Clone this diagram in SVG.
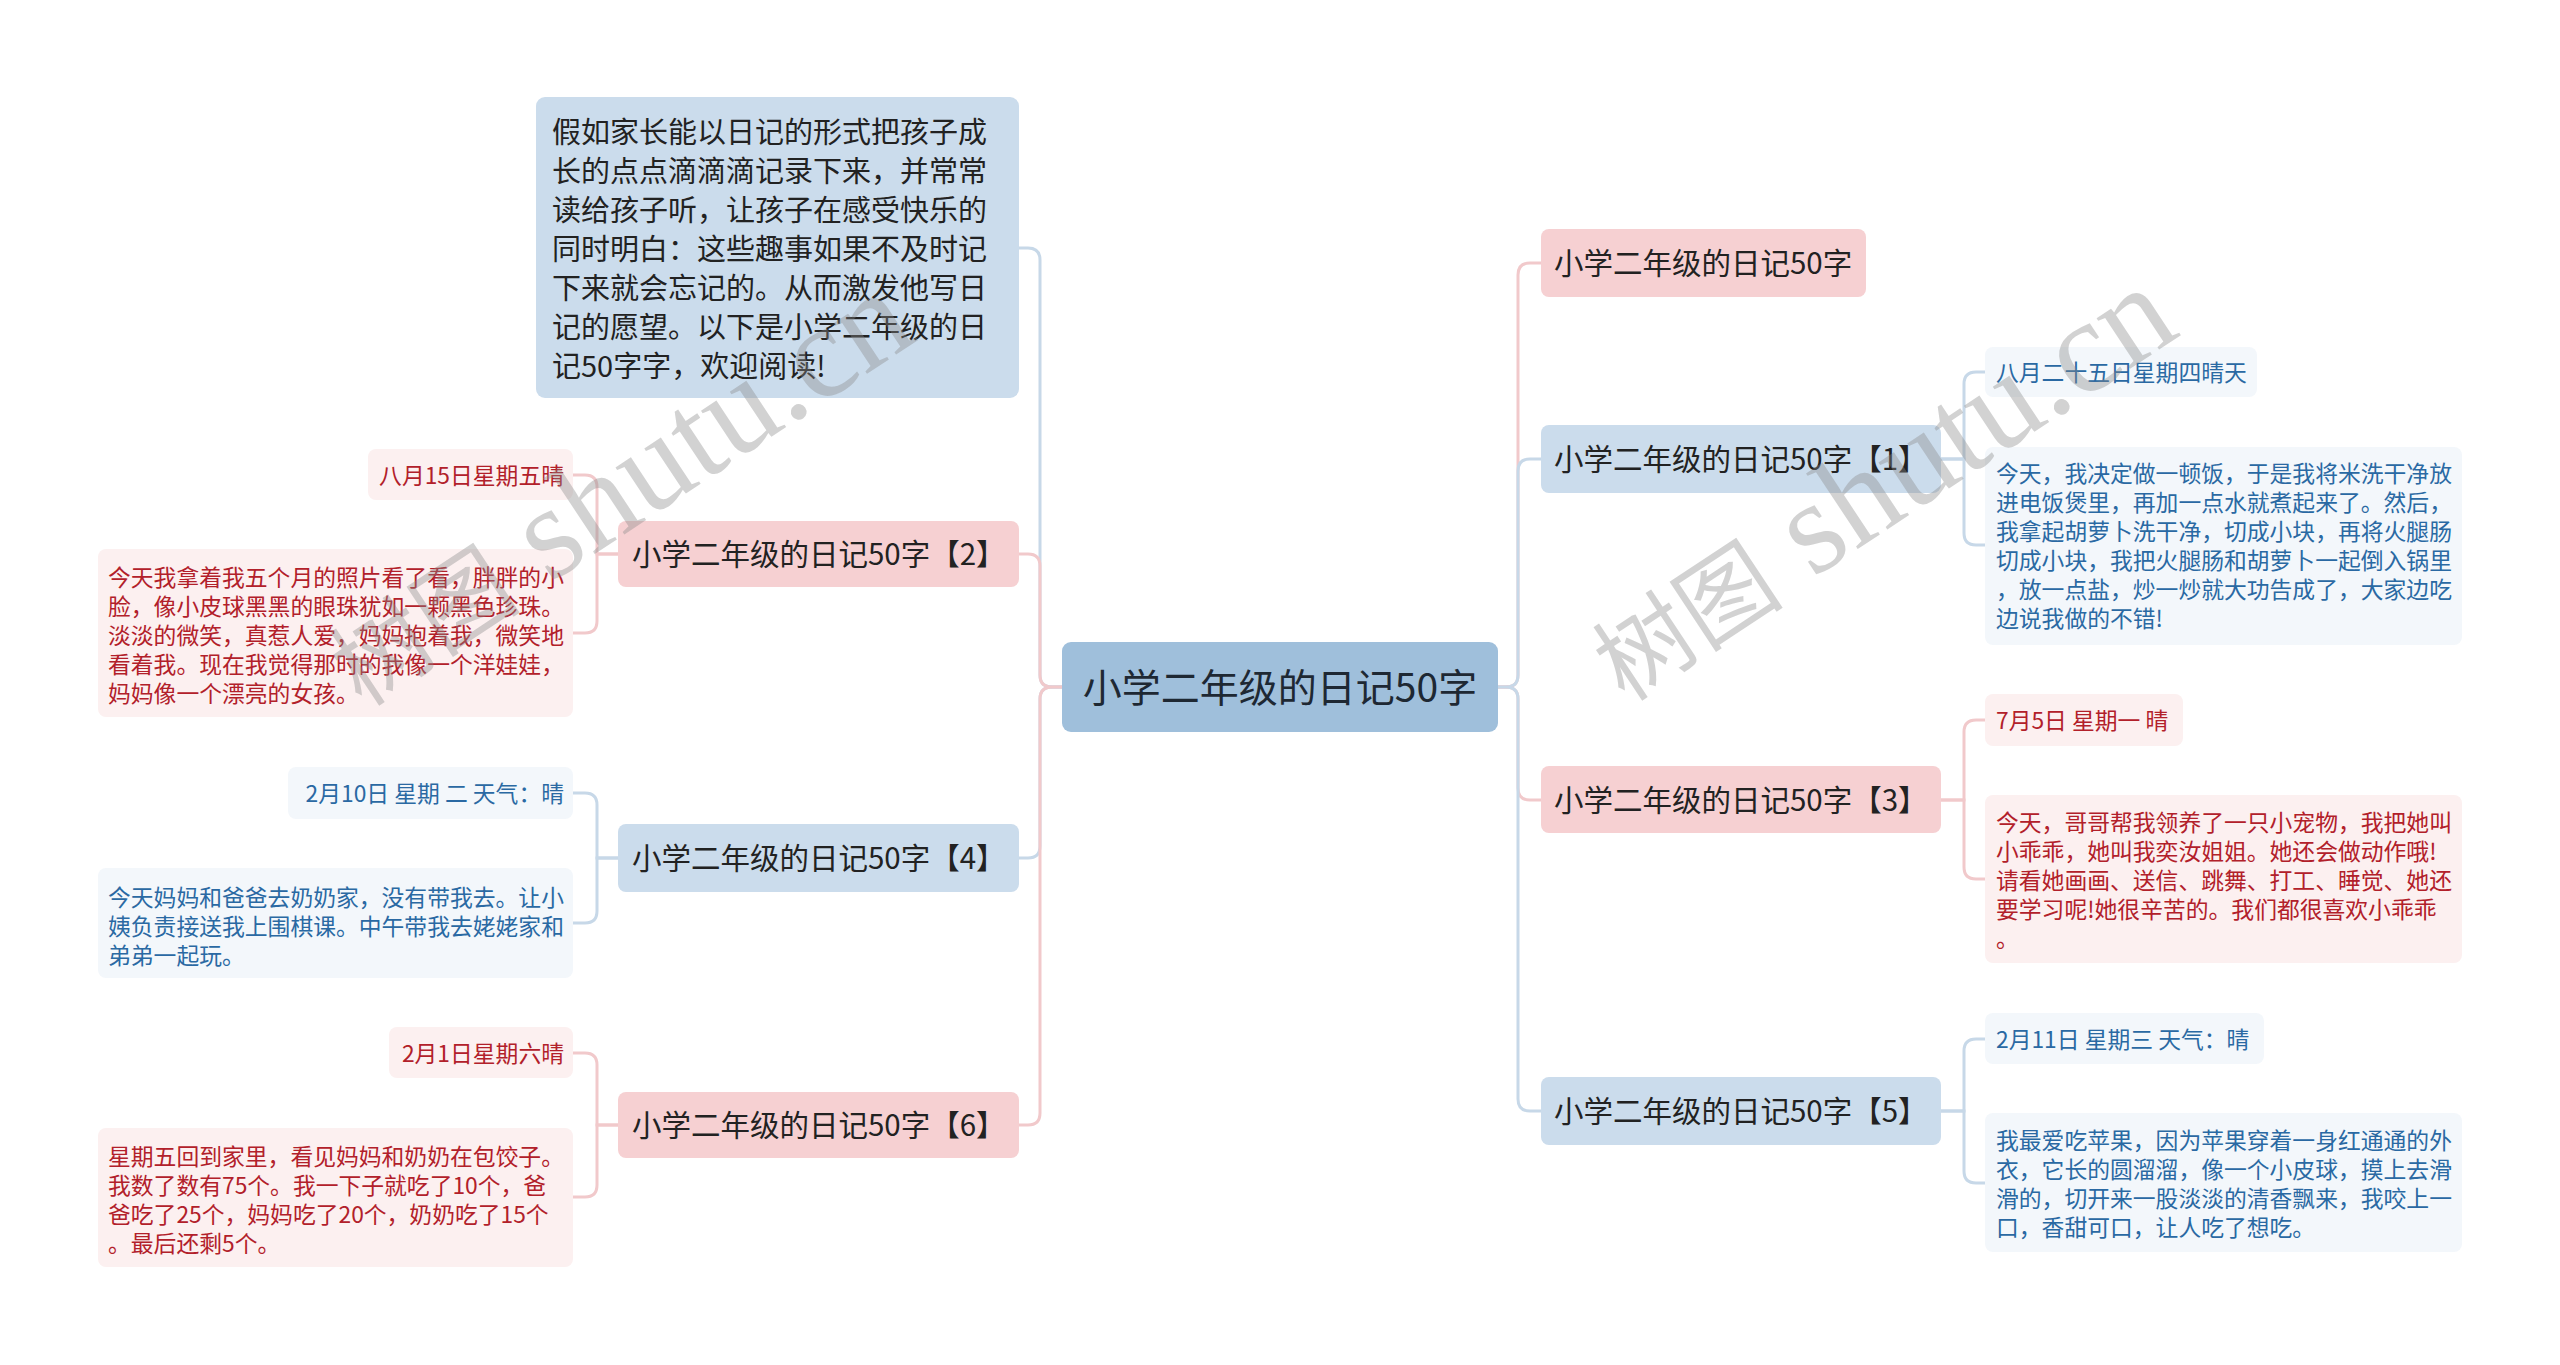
<svg xmlns="http://www.w3.org/2000/svg" width="2560" height="1365" viewBox="0 0 2560 1365">
<style>
text{font-family:"Noto Sans CJK SC","Noto Sans",sans-serif;}
.root{fill:#9fbfdb;}
.tb{fill:#cbdcec;}
.tp{fill:#f6d0d2;}
.lb{fill:#f3f7fb;}
.lp{fill:#fcf0f0;}
.rt{font-size:39px;fill:#1e2833;}
.tt{font-size:29.5px;fill:#222;}
.it{font-size:29px;fill:#222;}
.ltb{font-size:22.8px;fill:#2a69a3;}
.ltp{font-size:22.8px;fill:#b2202a;}
.cb{fill:none;stroke:#c7d8e8;stroke-width:3;}
.cp{fill:none;stroke:#f1c9cb;stroke-width:3;}
.wm{fill:#8a8a8a;fill-opacity:0.38;font-family:"Liberation Serif","Noto Sans CJK SC",serif;}
</style>

<g id="connectors">
  <path class="cb" d="M1062,687 H1052 Q1040,687 1040,675 V260 Q1040,248 1028,248 H1019"/>
  <path class="cp" d="M1062,687 H1052 Q1040,687 1040,675 V566 Q1040,554 1028,554 H1019"/>
  <path class="cb" d="M1062,687 H1052 Q1040,687 1040,699 V846 Q1040,858 1028,858 H1019"/>
  <path class="cp" d="M1062,687 H1052 Q1040,687 1040,699 V1113 Q1040,1125 1028,1125 H1019"/>
  <path class="cp" d="M1498,687 H1506 Q1518,687 1518,675 V275 Q1518,263 1530,263 H1541"/>
  <path class="cb" d="M1498,687 H1506 Q1518,687 1518,675 V471 Q1518,459 1530,459 H1541"/>
  <path class="cp" d="M1498,687 H1506 Q1518,687 1518,699 V788 Q1518,800 1530,800 H1541"/>
  <path class="cb" d="M1498,687 H1506 Q1518,687 1518,699 V1099 Q1518,1111 1530,1111 H1541"/>
  <path class="cp" d="M618,554 H597 V487 Q597,475 585,475 H573"/>
  <path class="cp" d="M618,554 H597 V621 Q597,633 585,633 H573"/>
  <path class="cb" d="M619,858 H597 V805 Q597,793 585,793 H573"/>
  <path class="cb" d="M619,858 H597 V911 Q597,923 585,923 H573"/>
  <path class="cp" d="M619,1125 H597 V1065 Q597,1053 585,1053 H573"/>
  <path class="cp" d="M619,1125 H597 V1185 Q597,1197 585,1197 H573"/>
  <path class="cb" d="M1941,459 H1964 V384 Q1964,372 1976,372 H1985"/>
  <path class="cb" d="M1941,459 H1964 V533 Q1964,545 1976,545 H1985"/>
  <path class="cp" d="M1941,800 H1964 V732 Q1964,720 1976,720 H1985"/>
  <path class="cp" d="M1941,800 H1964 V867 Q1964,879 1976,879 H1985"/>
  <path class="cb" d="M1941,1111 H1964 V1051 Q1964,1039 1976,1039 H1985"/>
  <path class="cb" d="M1941,1111 H1964 V1171 Q1964,1183 1976,1183 H1985"/>
</g>

<g id="root">
  <rect class="root" x="1062" y="642" width="436" height="90" rx="9"/>
  <text class="rt" x="1280" y="702" text-anchor="middle">小学二年级的日记50字</text>
</g>

<g id="intro">
  <rect class="tb" x="536" y="97" width="483" height="301" rx="9"/>
  <text class="it" x="552" y="143">假如家长能以日记的形式把孩子成</text>
  <text class="it" x="552" y="182">长的点点滴滴滴记录下来，并常常</text>
  <text class="it" x="552" y="221">读给孩子听，让孩子在感受快乐的</text>
  <text class="it" x="552" y="260">同时明白：这些趣事如果不及时记</text>
  <text class="it" x="552" y="299">下来就会忘记的。从而激发他写日</text>
  <text class="it" x="552" y="338">记的愿望。以下是小学二年级的日</text>
  <text class="it" x="552" y="377">记50字字，欢迎阅读!</text>
</g>

<g id="topic2">
  <rect class="tp" x="618" y="521" width="401" height="66" rx="8"/>
  <text class="tt" x="632" y="565">小学二年级的日记50字【2】</text>
</g>
<g id="leaf2a">
  <rect class="lp" x="368" y="449" width="205" height="51" rx="8"/>
  <text class="ltp" x="564" y="484" text-anchor="end">八月15日星期五晴</text>
</g>
<g id="leaf2b">
  <rect class="lp" x="98" y="549" width="475" height="168" rx="8"/>
  <text class="ltp" x="108" y="586">今天我拿着我五个月的照片看了看，胖胖的小</text>
  <text class="ltp" x="108" y="615">脸，像小皮球黑黑的眼珠犹如一颗黑色珍珠。</text>
  <text class="ltp" x="108" y="644">淡淡的微笑，真惹人爱，妈妈抱着我，微笑地</text>
  <text class="ltp" x="108" y="673">看着我。现在我觉得那时的我像一个洋娃娃，</text>
  <text class="ltp" x="108" y="702">妈妈像一个漂亮的女孩。</text>
</g>

<g id="topic4">
  <rect class="tb" x="618" y="824" width="401" height="68" rx="8"/>
  <text class="tt" x="632" y="869">小学二年级的日记50字【4】</text>
</g>
<g id="leaf4a">
  <rect class="lb" x="288" y="767" width="285" height="52" rx="8"/>
  <text class="ltb" x="564" y="802" text-anchor="end">2月10日 星期 二 天气：晴</text>
</g>
<g id="leaf4b">
  <rect class="lb" x="98" y="868" width="475" height="110" rx="8"/>
  <text class="ltb" x="108" y="906">今天妈妈和爸爸去奶奶家，没有带我去。让小</text>
  <text class="ltb" x="108" y="935">姨负责接送我上围棋课。中午带我去姥姥家和</text>
  <text class="ltb" x="108" y="964">弟弟一起玩。</text>
</g>

<g id="topic6">
  <rect class="tp" x="618" y="1092" width="401" height="66" rx="8"/>
  <text class="tt" x="632" y="1136">小学二年级的日记50字【6】</text>
</g>
<g id="leaf6a">
  <rect class="lp" x="389" y="1027" width="184" height="51" rx="8"/>
  <text class="ltp" x="564" y="1062" text-anchor="end">2月1日星期六晴</text>
</g>
<g id="leaf6b">
  <rect class="lp" x="98" y="1128" width="475" height="139" rx="8"/>
  <text class="ltp" x="108" y="1165">星期五回到家里，看见妈妈和奶奶在包饺子。</text>
  <text class="ltp" x="108" y="1194">我数了数有75个。我一下子就吃了10个，爸</text>
  <text class="ltp" x="108" y="1223">爸吃了25个，妈妈吃了20个，奶奶吃了15个</text>
  <text class="ltp" x="108" y="1252">。最后还剩5个。</text>
</g>

<g id="topic0">
  <rect class="tp" x="1541" y="229" width="325" height="68" rx="8"/>
  <text class="tt" x="1554" y="274">小学二年级的日记50字</text>
</g>

<g id="topic1">
  <rect class="tb" x="1541" y="425" width="400" height="68" rx="8"/>
  <text class="tt" x="1554" y="470">小学二年级的日记50字【1】</text>
</g>
<g id="leaf1a">
  <rect class="lb" x="1985" y="347" width="272" height="50" rx="8"/>
  <text class="ltb" x="1996" y="381">八月二十五日星期四晴天</text>
</g>
<g id="leaf1b">
  <rect class="lb" x="1985" y="447" width="477" height="198" rx="8"/>
  <text class="ltb" x="1996" y="482">今天，我决定做一顿饭，于是我将米洗干净放</text>
  <text class="ltb" x="1996" y="511">进电饭煲里，再加一点水就煮起来了。然后，</text>
  <text class="ltb" x="1996" y="540">我拿起胡萝卜洗干净，切成小块，再将火腿肠</text>
  <text class="ltb" x="1996" y="569">切成小块，我把火腿肠和胡萝卜一起倒入锅里</text>
  <text class="ltb" x="1996" y="598">，放一点盐，炒一炒就大功告成了，大家边吃</text>
  <text class="ltb" x="1996" y="627">边说我做的不错!</text>
</g>

<g id="topic3">
  <rect class="tp" x="1541" y="766" width="400" height="67" rx="8"/>
  <text class="tt" x="1554" y="811">小学二年级的日记50字【3】</text>
</g>
<g id="leaf3a">
  <rect class="lp" x="1985" y="694" width="198" height="52" rx="8"/>
  <text class="ltp" x="1996" y="729">7月5日 星期一 晴</text>
</g>
<g id="leaf3b">
  <rect class="lp" x="1985" y="795" width="477" height="168" rx="8"/>
  <text class="ltp" x="1996" y="831">今天，哥哥帮我领养了一只小宠物，我把她叫</text>
  <text class="ltp" x="1996" y="860">小乖乖，她叫我奕汝姐姐。她还会做动作哦!</text>
  <text class="ltp" x="1996" y="889">请看她画画、送信、跳舞、打工、睡觉、她还</text>
  <text class="ltp" x="1996" y="918">要学习呢!她很辛苦的。我们都很喜欢小乖乖</text>
  <text class="ltp" x="1996" y="947">。</text>
</g>

<g id="topic5">
  <rect class="tb" x="1541" y="1077" width="400" height="68" rx="8"/>
  <text class="tt" x="1554" y="1122">小学二年级的日记50字【5】</text>
</g>
<g id="leaf5a">
  <rect class="lb" x="1985" y="1013" width="279" height="51" rx="8"/>
  <text class="ltb" x="1996" y="1048">2月11日 星期三 天气：晴</text>
</g>
<g id="leaf5b">
  <rect class="lb" x="1985" y="1113" width="477" height="139" rx="8"/>
  <text class="ltb" x="1996" y="1149">我最爱吃苹果，因为苹果穿着一身红通通的外</text>
  <text class="ltb" x="1996" y="1178">衣，它长的圆溜溜，像一个小皮球，摸上去滑</text>
  <text class="ltb" x="1996" y="1207">滑的，切开来一股淡淡的清香飘来，我咬上一</text>
  <text class="ltb" x="1996" y="1236">口，香甜可口，让人吃了想吃。</text>
</g>

<g id="watermarks">
  <text class="wm" transform="translate(362,708) rotate(-33.5)"><tspan font-size="96">树图</tspan><tspan font-size="132"> shutu.cn</tspan></text>
  <text class="wm" transform="translate(1625,703) rotate(-33.5)"><tspan font-size="96">树图</tspan><tspan font-size="132"> shutu.cn</tspan></text>
</g>
</svg>
